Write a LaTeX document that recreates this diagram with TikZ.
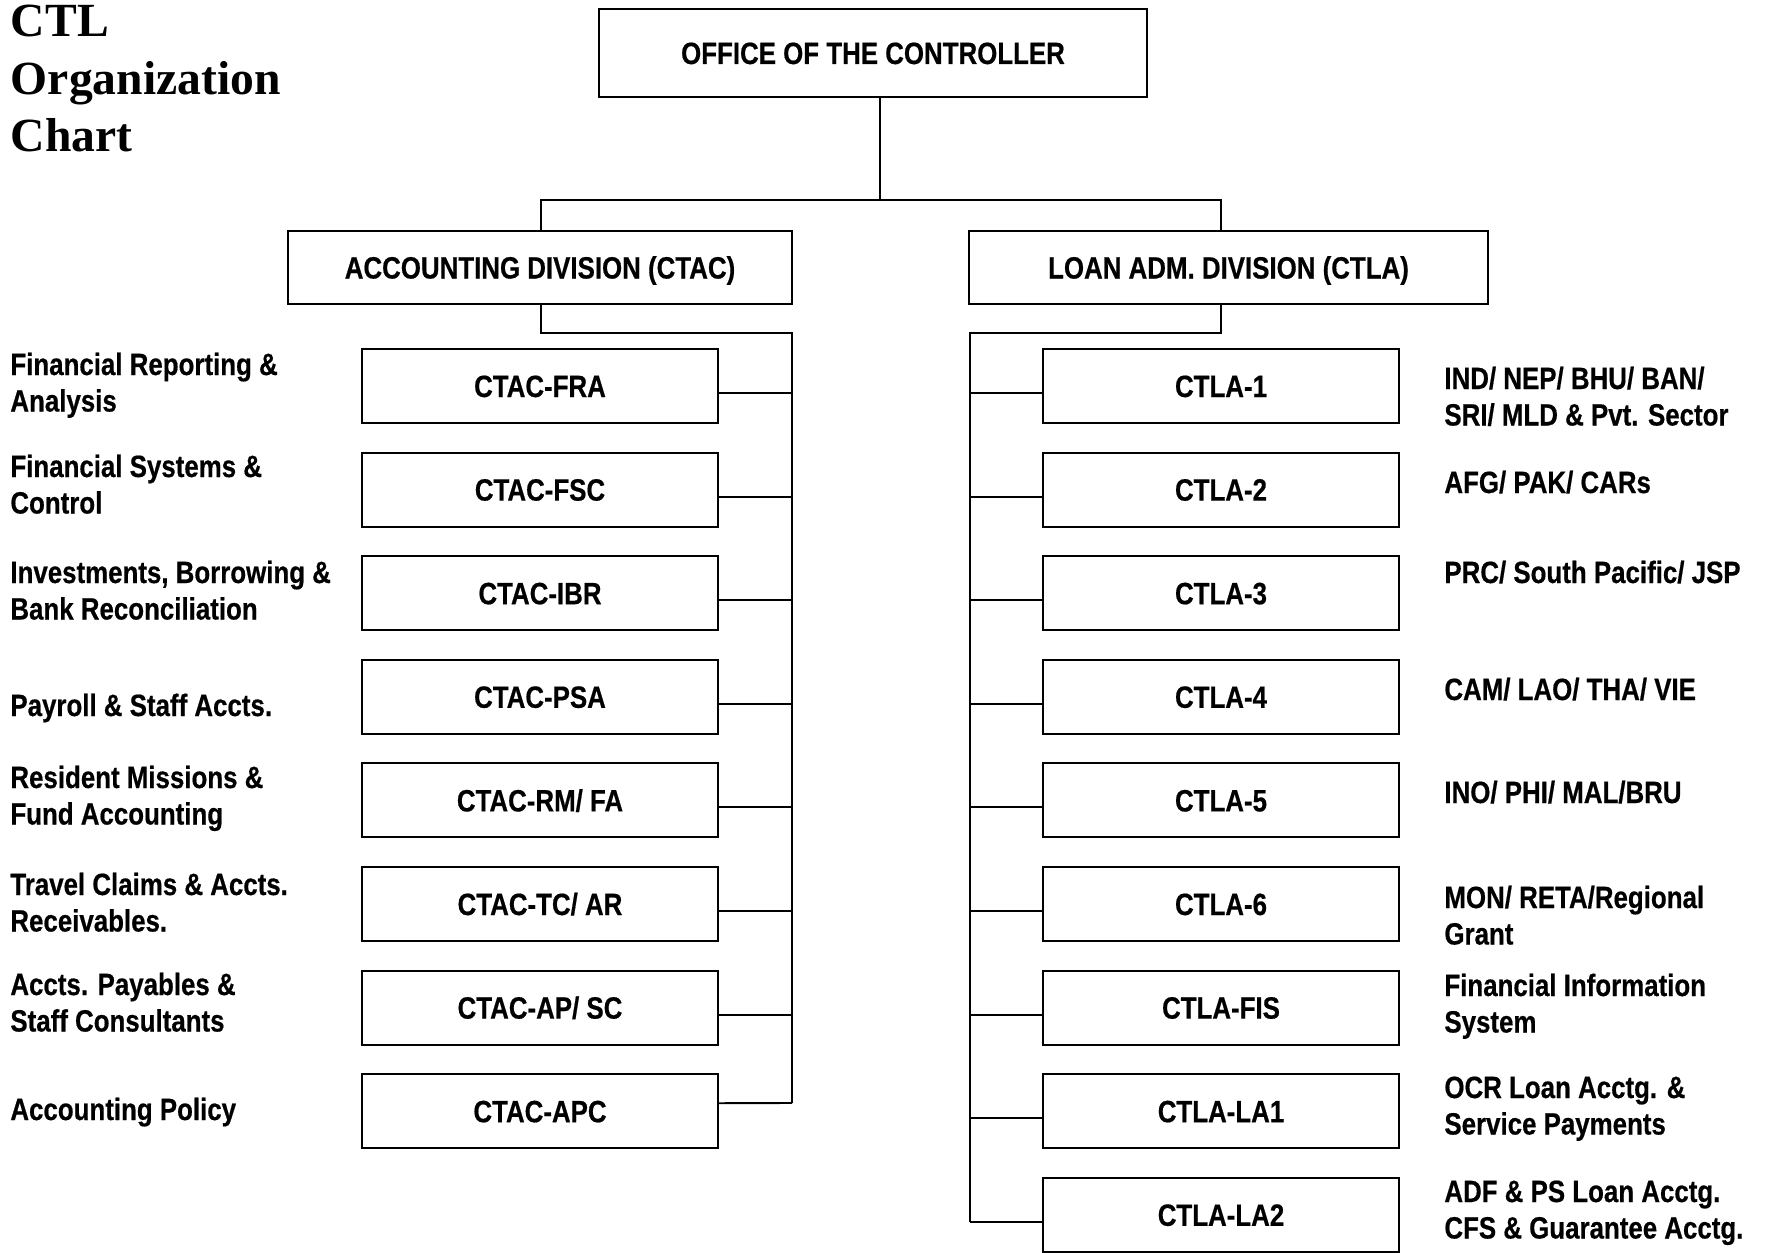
\documentclass[tikz,border=0pt]{standalone}
\usepackage{fontspec}
\newfontfamily\labfont{Liberation Sans}[FakeStretch=0.84,FakeBold=0.5]
\newfontfamily\ttlfont{Liberation Serif}
\newcommand\twoline[2]{\begin{tabular}[t]{@{}l@{}}#1\\#2\end{tabular}}
\newcommand\threeline[3]{\begin{tabular}[t]{@{}l@{}}#1\\#2\\#3\end{tabular}}
\begin{document}
\begin{tikzpicture}[x=0.5pt,y=-0.5pt,
  every node/.style={inner sep=0pt},
  conn/.style={line width=0.95pt, line join=miter},
  unit/.style={draw, line width=1pt, minimum width=178pt, minimum height=37pt,
    font=\labfont\bfseries\fontsize{15.4}{18.25}\selectfont, text height=11pt, text depth=0pt},
  head/.style={unit, minimum height=36.5pt},
  note/.style={anchor=base west, font=\labfont\bfseries\fontsize{15.4}{18.25}\selectfont},
  title/.style={anchor=base west, font=\ttlfont\bfseries\fontsize{23.8}{28.75}\selectfont}
]
\useasboundingbox (0,0) rectangle (1765,1252);

% title
\node[title] (ttl) at (10.5,37) {\threeline{CTL}{Organization}{Chart}};

% top levels
\node[head, minimum width=274pt, minimum height=44pt] (office) at (873,53) {OFFICE OF THE CONTROLLER};
\node[head, minimum width=252pt] (acc) at (540,267.5) {ACCOUNTING DIVISION (CTAC)};
\node[head, minimum width=259.5pt] (loan) at (1228.5,267.5) {LOAN ADM. DIVISION (CTLA)};

% accounting units
\node[unit] (fra) at (540,386)    {CTAC-FRA};
\node[unit] (fsc) at (540,489.6)  {CTAC-FSC};
\node[unit] (ibr) at (540,593.2)  {CTAC-IBR};
\node[unit] (psa) at (540,696.8)  {CTAC-PSA};
\node[unit] (rmfa) at (540,800.4) {CTAC-RM/ FA};
\node[unit] (tcar) at (540,904)   {CTAC-TC/ AR};
\node[unit] (apsc) at (540,1007.6) {CTAC-AP/ SC};
\node[unit] (apc) at (540,1111.2) {CTAC-APC};

% loan units
\node[unit] (la1) at (1221,386)    {CTLA-1};
\node[unit] (la2) at (1221,489.6)  {CTLA-2};
\node[unit] (la3) at (1221,593.2)  {CTLA-3};
\node[unit] (la4) at (1221,696.8)  {CTLA-4};
\node[unit] (la5) at (1221,800.4)  {CTLA-5};
\node[unit] (la6) at (1221,904)    {CTLA-6};
\node[unit] (fis) at (1221,1007.6) {CTLA-FIS};
\node[unit] (lo1) at (1221,1111.2) {CTLA-LA1};
\node[unit] (lo2) at (1221,1214.8) {CTLA-LA2};

% left labels
\node[note] (nfra) at (10,375) {\twoline{Financial Reporting \&}{Analysis}};
\node[note] (nfsc) at (10,477) {\twoline{Financial Systems \&}{Control}};
\node[note] (nibr) at (10,583) {\twoline{Investments, Borrowing \&}{Bank Reconciliation}};
\node[note] (npsa) at (10,716) {Payroll \& Staff Accts.};
\node[note] (nrm) at (10,788) {\twoline{Resident Missions \&}{Fund Accounting}};
\node[note] (ntc) at (10,895) {\twoline{Travel Claims \& Accts.}{Receivables.}};
\node[note] (nap) at (10,995) {\twoline{Accts. Payables \&}{Staff Consultants}};
\node[note] (napc) at (10,1120) {Accounting Policy};

% right labels
\node[note] (n1) at (1444,389) {\twoline{IND/ NEP/ BHU/ BAN/}{SRI/ MLD \& Pvt. Sector}};
\node[note] (n2) at (1444,493) {AFG/ PAK/ CARs};
\node[note] (n3) at (1444,583) {PRC/ South Pacific/ JSP};
\node[note] (n4) at (1444,700) {CAM/ LAO/ THA/ VIE};
\node[note] (n5) at (1444,803) {INO/ PHI/ MAL/BRU};
\node[note] (n6) at (1444,908) {\twoline{MON/ RETA/Regional}{Grant}};
\node[note] (nfis) at (1444,996) {\twoline{Financial Information}{System}};
\node[note] (nlo1) at (1444,1098) {\twoline{OCR Loan Acctg. \&}{Service Payments}};
\node[note] (nlo2) at (1444,1202) {\twoline{ADF \& PS Loan Acctg.}{CFS \& Guarantee Acctg.}};

% connector points
\coordinate (bar) at (880,200);
\coordinate (accdrop) at (541,200);
\coordinate (loandrop) at (1221,200);
\coordinate (accbus) at (792,333);
\coordinate (accbusend) at (792,1103);
\coordinate (loanbus) at (970,333);
\coordinate (loanbusend) at (970,1222);

% connectors
\draw[conn] (office.south -| bar) -- (bar);
\draw[conn] (acc.north -| accdrop) -- (accdrop) -- (loandrop) -- (loan.north -| loandrop);
\draw[conn] (acc.south -| accdrop) |- (accbus) -- (accbusend);
\draw[conn] (loan.south -| loandrop) |- (loanbus) -- (loanbusend);

\foreach \n in {fra,fsc,ibr,psa,rmfa,tcar,apsc}
  \draw[conn] ([yshift=-3.5pt]\n.east) -- ([yshift=-3.5pt]\n.east -| accbus);
\draw[conn] ([yshift=4pt]apc.east) -- (accbusend);

\foreach \n in {la1,la2,la3,la4,la5,la6,fis,lo1,lo2}
  \draw[conn] ([yshift=-3.5pt]\n.west) -- ([yshift=-3.5pt]\n.west -| loanbus);
\end{tikzpicture}
\end{document}
